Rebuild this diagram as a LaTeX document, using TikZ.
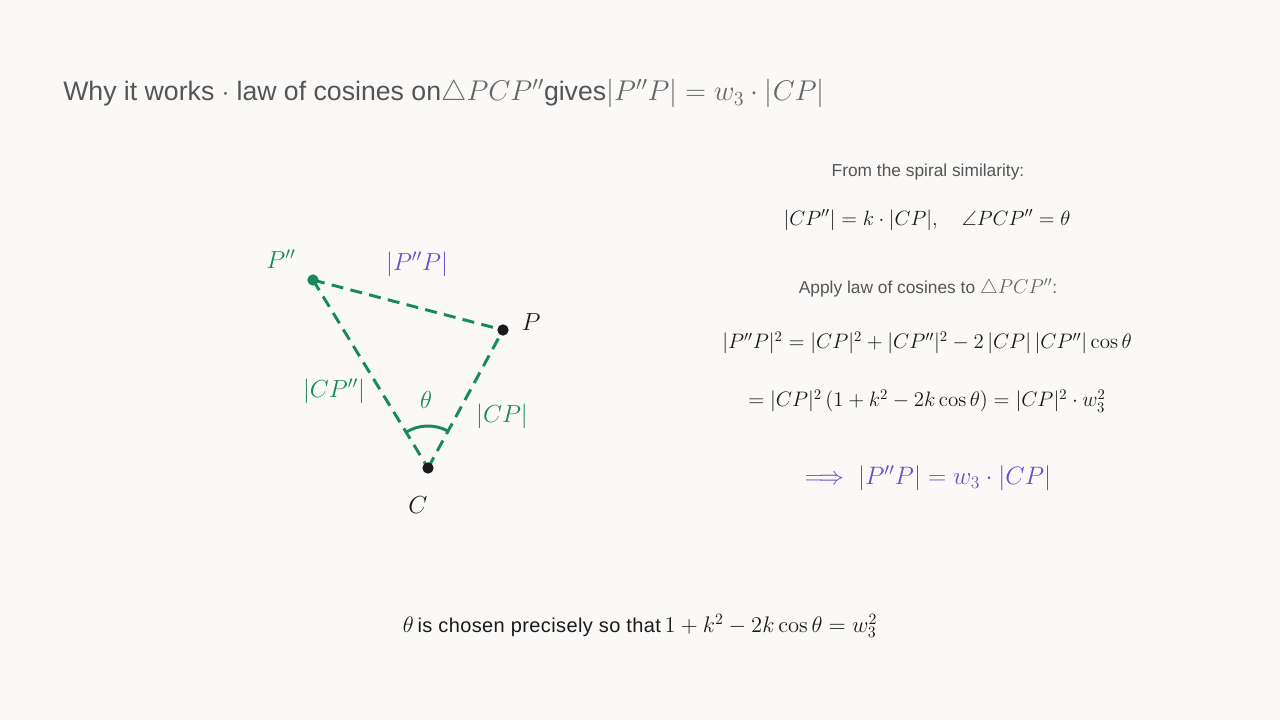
\RequirePackage{fix-cm}
\documentclass[tikz,border=0pt]{standalone}
\usepackage{amsmath,amssymb}
\usepackage[no-math]{fontspec}
\setmainfont{Liberation Sans}
\usetikzlibrary{calc}
\definecolor{bg}{HTML}{FAF9F7}
\definecolor{txt}{HTML}{555555}
\definecolor{mtxt}{HTML}{666666}
\definecolor{grn}{HTML}{168A5E}
\definecolor{pur}{HTML}{6A4FC8}
\definecolor{ink}{HTML}{1A1A1A}
\newcommand{\fsz}[1]{\fontsize{#1}{#1}\selectfont}
\tikzset{
  edge/.style={draw=grn, line width=2.2pt, dash pattern=on 9pt off 5.5pt},
  dot/.style={circle, fill=#1, inner sep=0pt, minimum size=8.5pt},
  lbl/.style={inner sep=0pt, anchor=center},
  tlbl/.style={lbl, font=\fsz{18.5}},
}
\begin{document}
\begin{tikzpicture}[x=0.75pt,y=-0.75pt]
\useasboundingbox (0,0) rectangle (1280,720);
\fill[bg] (0,0) rectangle (1280,720);
% title
\node[lbl, anchor=base west, text=txt, font=\fsz{20}] (title) at (63,101)
  {Why it works $\cdot$ law of cosines on{\fsz{21.4}\color{mtxt}$\triangle PCP''$}gives{\fsz{21.4}\color{mtxt}$|P''P| = w_3\cdot|CP|$}};
% triangle
\coordinate (Pp) at (313,280);
\coordinate (P) at (503,330);
\coordinate (C) at (428,468);
\draw[edge] (Pp) -- (P);
\draw[edge] (Pp) -- (C);
\draw[edge] (C) -- (P);
\draw[grn, line width=2.2pt] ($(C)+(121.5:31.5pt)$) arc[start angle=121.5, end angle=61.5, radius=31.5pt];
\node[dot=grn] (nPp) at (Pp) {};
\node[dot=ink] (nP) at (P) {};
\node[dot=ink] (nC) at (C) {};
\node[tlbl, text=grn] (lPp) at (281,259) {$P''$};
\node[tlbl, text=pur] (lPPp) at (417,264) {$|P''P|$};
\node[tlbl, text=ink] (lP) at (531,322) {$P$};
\node[tlbl, text=grn] (lCPp) at (334,391) {$|CP''|$};
\node[tlbl, text=grn] (lth) at (426,400) {$\theta$};
\node[tlbl, text=grn] (lCP) at (502,416) {$|CP|$};
\node[tlbl, text=ink] (lC) at (418,505) {$C$};
% right column
\node[lbl, text=txt, font=\fsz{13}] (r1) at (928,172) {From the spiral similarity:};
\node[lbl, text=ink, font=\fsz{15.5}] (r2) at (927,220) {$|CP''| = k\cdot|CP|,\quad \angle PCP'' = \theta$};
\node[lbl, text=txt, font=\fsz{13}] (r3) at (928,288) {Apply law of cosines to {\fsz{15}\color{mtxt}$\triangle PCP''$}:};
\node[lbl, text=ink, font=\fsz{15.7}] (r4) at (927,343) {$|P''P|^2 = |CP|^2 + |CP''|^2 - 2\,|CP|\,|CP''|\cos\theta$};
\node[lbl, text=ink, font=\fsz{15.7}] (r5) at (927,401) {$= |CP|^2\,(1 + k^2 - 2k\cos\theta) = |CP|^2\cdot w_3^2$};
\node[lbl, text=pur, font=\fsz{18.9}] (r6) at (928,478) {$\Longrightarrow\ |P''P| = w_3\cdot|CP|$};
% bottom
\node[lbl, text=ink, font=\fsz{16.9}] (bot) at (640,626) {$\theta$\,{\fsz{15}\addfontfeatures{LetterSpace=2}is chosen precisely so that}\,$1 + k^2 - 2k\cos\theta = w_3^2$};
\end{tikzpicture}
\end{document}
